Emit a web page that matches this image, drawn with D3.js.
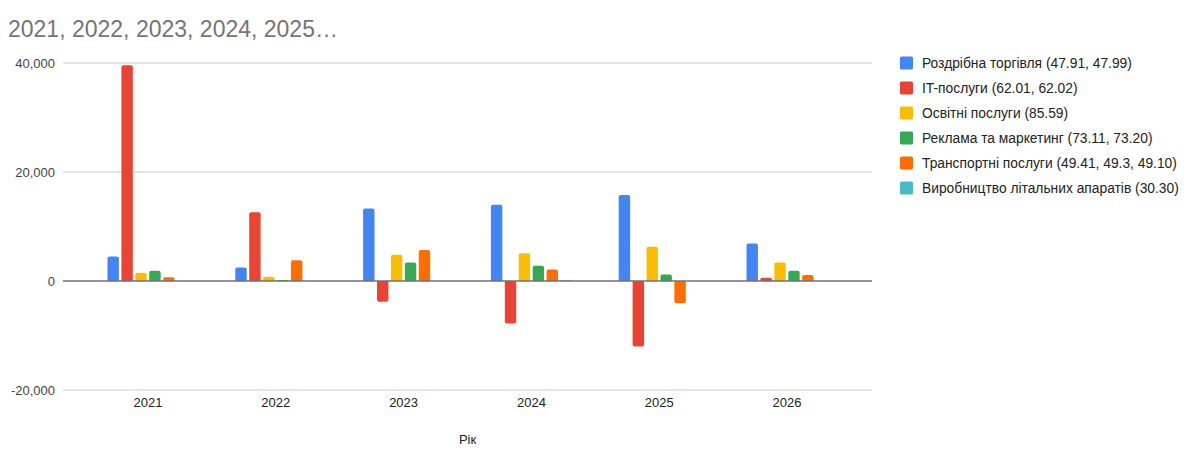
<!DOCTYPE html>
<html>
<head>
<meta charset="utf-8">
<script src="https://cdn.jsdelivr.net/npm/d3@7"></script>
<style>
	body { margin: 0; background: #fff; }
	svg { display: block; font-family: "Liberation Sans", Arial, sans-serif; }
</style>
</head>
<body>
<svg id="chart" width="1200" height="455"></svg>
<script>
var years = ["2021", "2022", "2023", "2024", "2025", "2026"];

var seriesNames = [
	"Роздрібна торгівля (47.91, 47.99)",
	"IT-послуги (62.01, 62.02)",
	"Освітні послуги (85.59)",
	"Реклама та маркетинг (73.11, 73.20)",
	"Транспортні послуги (49.41, 49.3, 49.10)",
	"Виробництво літальних апаратів (30.30)"
];

var retail    = [4500, 2500, 13300, 14000, 15800, 6900];
var itServ    = [39600, 12600, -3800, -7800, -12000, 600];
var education = [1500, 800, 4800, 5100, 6300, 3400];
var marketing = [1900, 200, 3400, 2800, 1200, 1900];
var transport = [700, 3800, 5700, 2100, -4100, 1100];
var aircraft  = [0, 0, 0, 150, 0, 0];

var yTicks = [-20000, 0, 20000, 40000];

var colors = ["#4285F4", "#EA4335", "#FBBC04", "#34A853", "#FF6D01", "#46BDC6"];

var seriesValues = [retail, itServ, education, marketing, transport, aircraft];

var svg = d3.select("#chart");

// plot area edges (window.top is read-only, so no "top" here)
var plotLeft = 63, plotRight = 872, plotTop = 63, plotBottom = 390;

var x0 = d3.scaleBand()
	.domain(years)
	.range([plotLeft, plotRight])
	.paddingOuter(0.165)
	.paddingInner(0);

var x1 = d3.scaleBand()
	.domain(d3.range(seriesNames.length))
	.range([-40.5, 40.5])
	.paddingInner(0.18)
	.paddingOuter(0);

var y = d3.scaleLinear()
	.domain([-20000, 40000])
	.range([plotBottom, plotTop]);

// title
svg.append("text")
	.attr("x", 8)
	.attr("y", 37)
	.attr("fill", "#757575")
	.style("font-size", "23px")
	.text("2021, 2022, 2023, 2024, 2025…");

// gridlines
svg.append("g")
	.selectAll("line")
	.data(yTicks.filter(function(d) { return d != 0; }))
	.enter().append("line")
	.attr("x1", plotLeft).attr("x2", plotRight)
	.attr("y1", function(d) { return y(d); })
	.attr("y2", function(d) { return y(d); })
	.attr("stroke", "#dcdcdc")
	.attr("stroke-width", 1.5);

// y axis labels (plain hyphen for negatives, like the original)
var fmt = d3.format(",");
var yAxis = d3.axisLeft(y)
	.tickValues(yTicks)
	.tickSize(0)
	.tickPadding(8)
	.tickFormat(function(d) { return fmt(d).replace("\u2212", "-"); });

var gy = svg.append("g")
	.attr("transform", "translate(" + plotLeft + ",0)")
	.call(yAxis);
gy.select(".domain").remove();
gy.selectAll("text")
	.attr("fill", "#444")
	.style("font-size", "13px")
	.style("font-family", "'Liberation Sans', Arial, sans-serif");

// bars
var groups = svg.append("g")
	.selectAll("g")
	.data(years)
	.enter().append("g")
	.attr("transform", function(d) { return "translate(" + (x0(d) + x0.bandwidth() / 2) + ",0)"; });

groups.selectAll("path")
	.data(function(d, i) {
		return seriesValues.map(function(s, k) { return {k: k, v: s[i]}; });
	})
	.enter().append("path")
	.attr("fill", function(d) { return colors[d.k]; })
	.attr("d", function(d) {
		if (d.v == 0) return "";
		var xa = x1(d.k), w = x1.bandwidth();
		var y0 = y(0), y1 = y(d.v);
		var h = Math.abs(y1 - y0);
		var r = Math.min(2, h / 2, w / 2);
		var p = d3.path();
		if (d.v > 0) {
			p.moveTo(xa, y0);
			p.lineTo(xa, y1 + r);
			p.arcTo(xa, y1, xa + r, y1, r);
			p.lineTo(xa + w - r, y1);
			p.arcTo(xa + w, y1, xa + w, y1 + r, r);
			p.lineTo(xa + w, y0);
		} else {
			p.moveTo(xa, y0);
			p.lineTo(xa, y1 - r);
			p.arcTo(xa, y1, xa + r, y1, r);
			p.lineTo(xa + w - r, y1);
			p.arcTo(xa + w, y1, xa + w, y1 - r, r);
			p.lineTo(xa + w, y0);
		}
		p.closePath();
		return p.toString();
	});

// zero line
svg.append("line")
	.attr("x1", plotLeft).attr("x2", plotRight)
	.attr("y1", y(0)).attr("y2", y(0))
	.attr("stroke", "#707070")
	.attr("stroke-width", 1.5);

// x axis labels
var xAxis = d3.axisBottom(x0).tickSize(0).tickPadding(8);
var gx = svg.append("g")
	.attr("transform", "translate(0," + plotBottom + ")")
	.call(xAxis);
gx.select(".domain").remove();
gx.selectAll("text")
	.attr("fill", "#222")
	.style("font-size", "13px")
	.style("font-family", "'Liberation Sans', Arial, sans-serif");

// x axis title
svg.append("text")
	.attr("x", (plotLeft + plotRight) / 2)
	.attr("y", 444)
	.attr("text-anchor", "middle")
	.attr("fill", "#222")
	.style("font-size", "13px")
	.text("Рік");

// legend
var legend = svg.append("g")
	.selectAll("g")
	.data(seriesNames)
	.enter().append("g")
	.attr("transform", function(d, i) { return "translate(900," + (63 + i * 25) + ")"; });

legend.append("rect")
	.attr("x", 0).attr("y", -6.5)
	.attr("width", 13).attr("height", 13)
	.attr("rx", 1.5)
	.attr("fill", function(d, i) { return colors[i]; });

legend.append("text")
	.attr("x", 22)
	.attr("y", 5)
	.attr("fill", "#222")
	.style("font-size", "13.8px")
	.text(function(d) { return d; });
</script>
</body>
</html>
